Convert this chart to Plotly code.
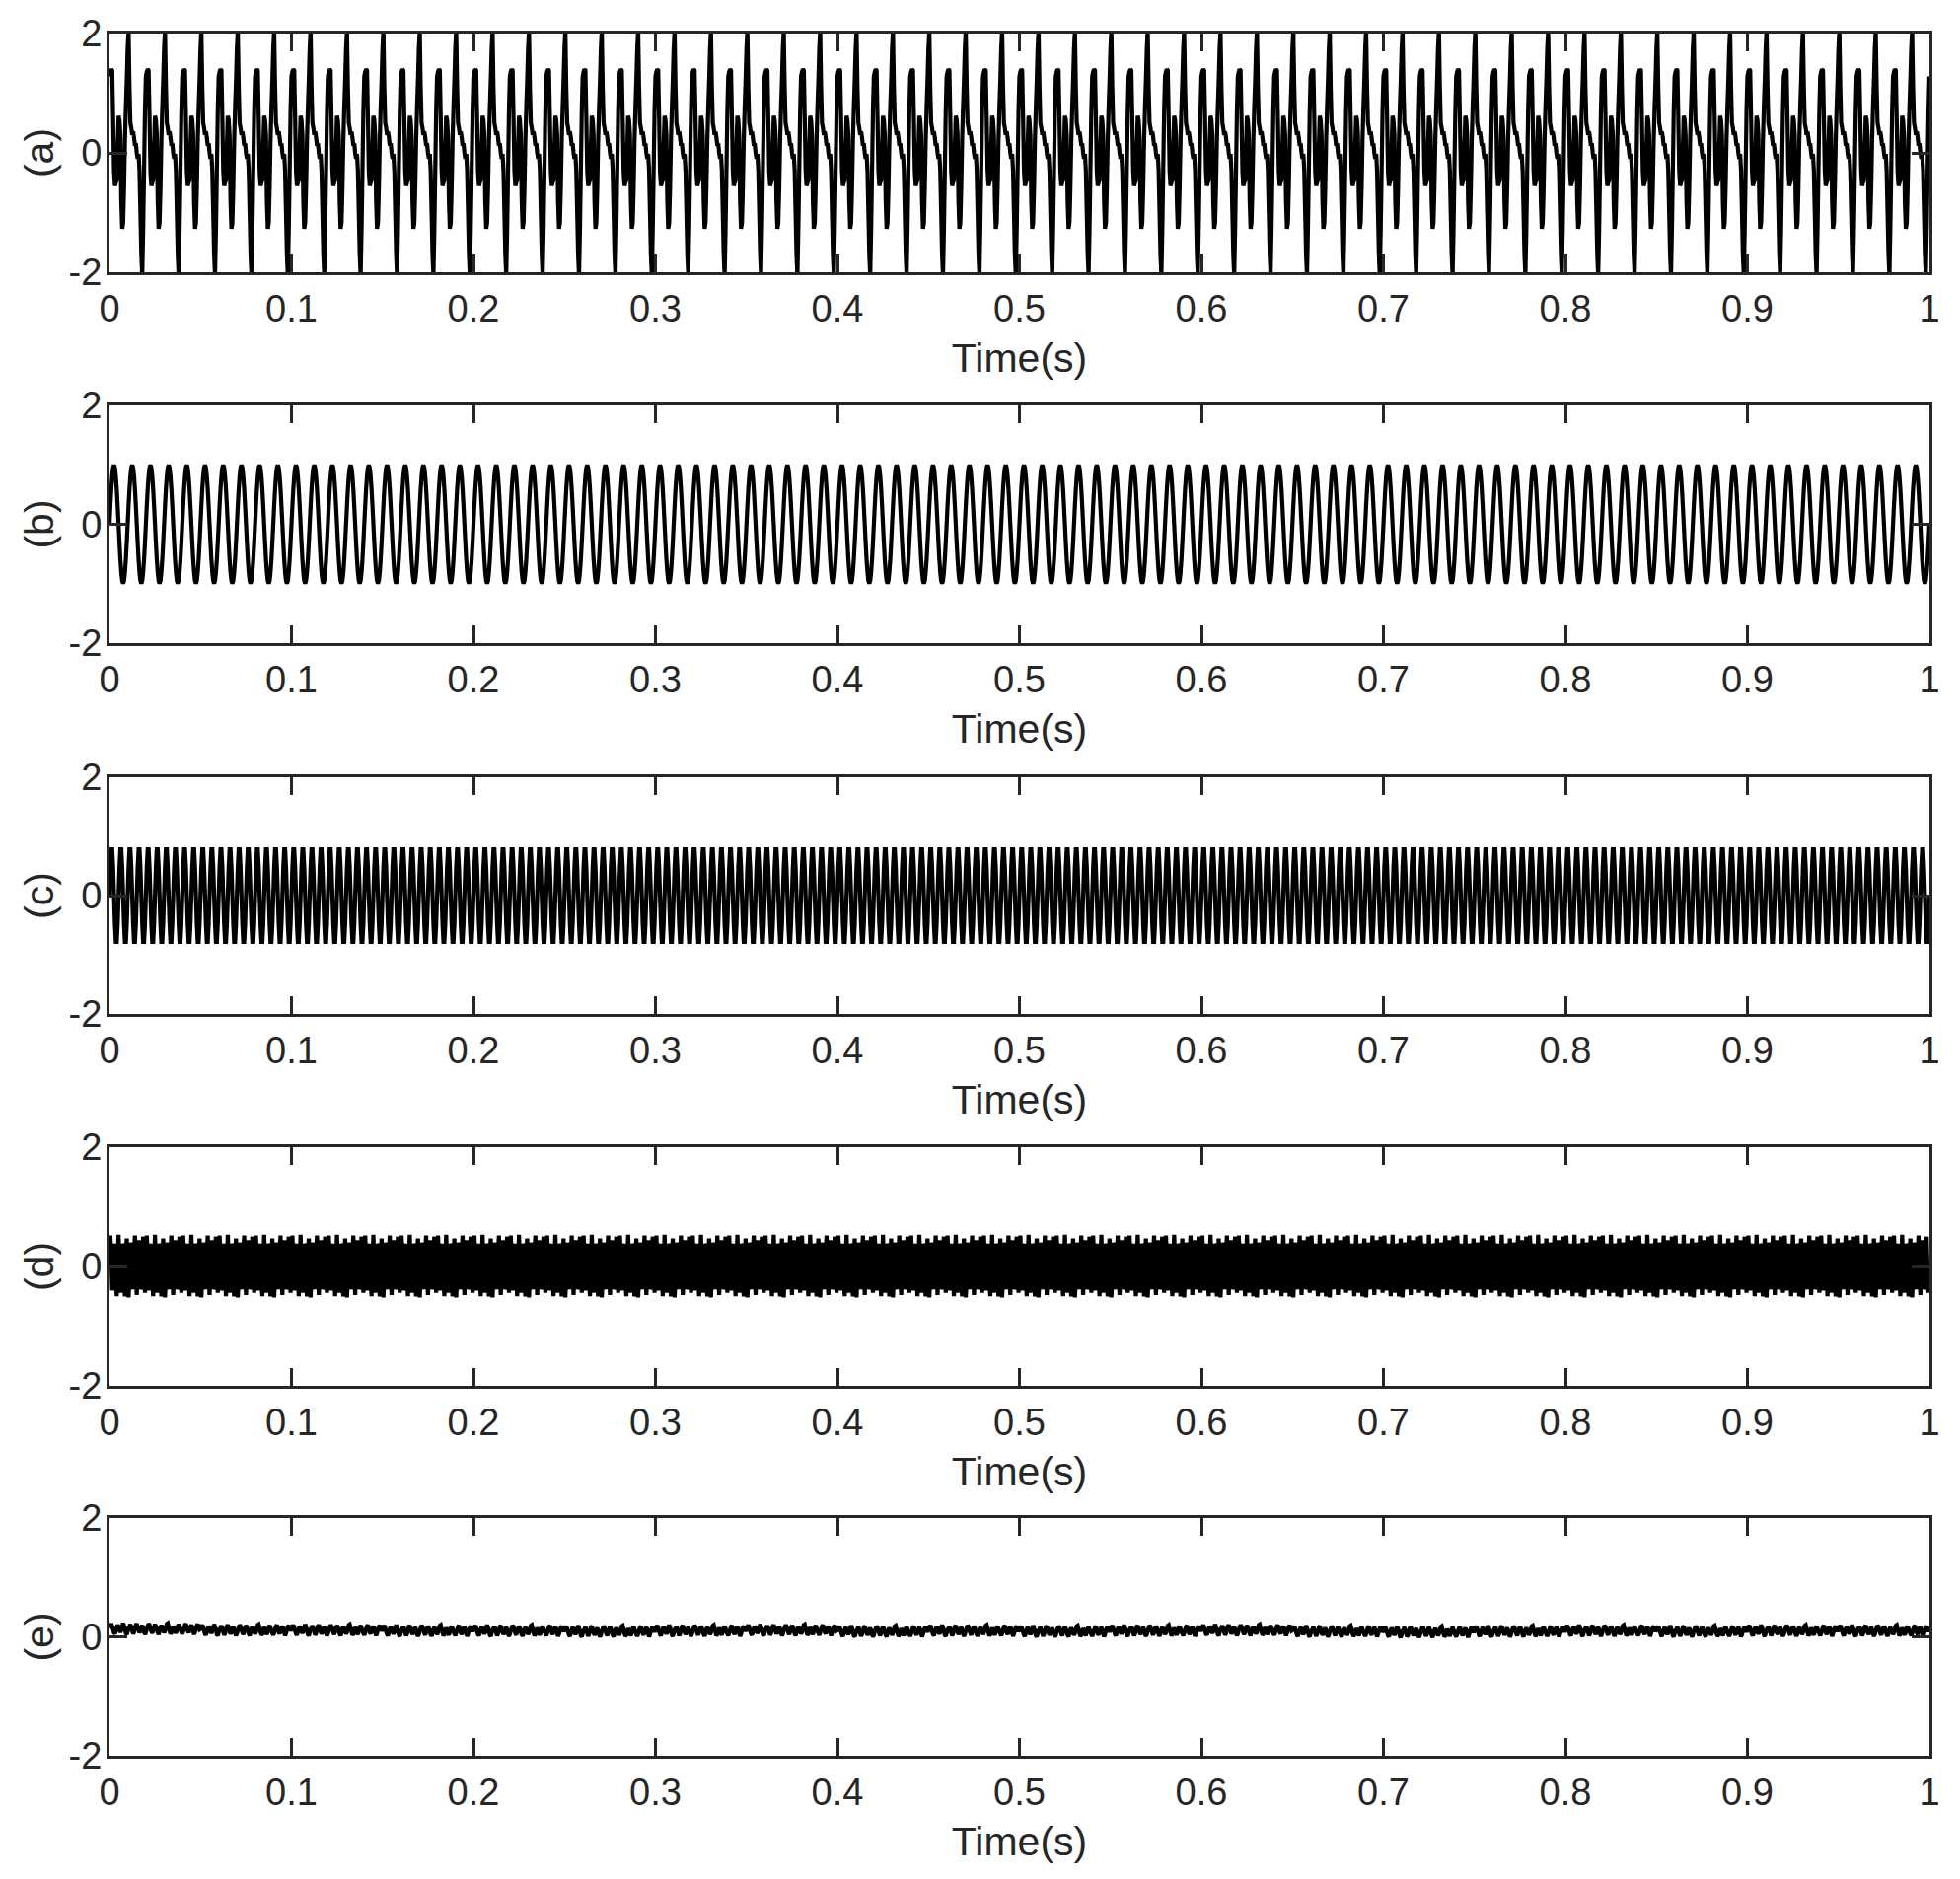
import numpy as np
import plotly.graph_objects as go
from plotly.subplots import make_subplots

# ---------------- data ----------------
PANEL_LABELS = ["(a)", "(b)", "(c)", "(d)", "(e)"]
X_TITLE = "Time(s)"
X_TICK_VALUES = [0, 0.1, 0.2, 0.3, 0.4, 0.5, 0.6, 0.7, 0.8, 0.9, 1.0]
X_TICK_LABELS = ["0", "0.1", "0.2", "0.3", "0.4", "0.5", "0.6", "0.7", "0.8", "0.9", "1"]
Y_TICK_VALUES = [-2, 0, 2]
Y_TICK_LABELS = ["-2", "0", "2"]

SAMPLE_STEP = 0.0005   # seconds between samples
DURATION = 1.0         # seconds

# (a) one 0.02 s cycle of the composite signal (40 samples)
CYCLE_A = [1.28, 1.36, 1.40, 1.38, 0.60, -0.30, -0.55, -0.50, -0.45, 0.10,
           0.62, 0.55, 0.30, -0.80, -1.27, -1.18, -0.60, 0.20, 0.75, 1.20,
           1.75, 2.05, 1.10, 0.50, 0.42, 0.30, 0.36, 0.26, 0.12, 0.16,
           0.00, -0.10, -0.02, -0.30, -1.00, -1.70, -2.05, -1.30, -0.30, 0.70]

# (b) one 0.01 s cycle (20 samples)
CYCLE_B = [0.00, 0.31, 0.59, 0.81, 0.95, 1.00, 0.95, 0.81, 0.59, 0.31,
           0.00, -0.31, -0.59, -0.81, -0.95, -1.00, -0.95, -0.81, -0.59, -0.31]

# (c) one 0.005 s cycle (10 samples)
CYCLE_C = [0.00, 0.48, 0.78, 0.78, 0.48, 0.00, -0.48, -0.78, -0.78, -0.48]

# (d) one 0.02 s pattern of the fast component (40 samples)
CYCLE_D = [0.00, 0.52, 0.14, -0.40, -0.30, 0.33, 0.38, -0.22, -0.50, 0.08,
           0.53, 0.06, -0.44, -0.22, 0.38, 0.34, -0.28, -0.50, 0.14, 0.47,
           0.00, -0.52, -0.15, 0.40, 0.27, -0.33, -0.38, 0.22, 0.52, -0.08,
           -0.48, -0.07, 0.44, 0.21, -0.38, -0.34, 0.27, 0.50, -0.14, -0.44]

# (e) residual: 0.05 s of fluctuation (100 samples) + slow level per 0.05 s block
NOISE_E = [0.02, 0.06, 0.09, 0.05, -0.01, -0.06, -0.08, -0.03, 0.03, 0.07,
           0.04, -0.02, -0.05, -0.02, 0.05, 0.10, 0.06, 0.00, -0.07, -0.09,
           -0.04, 0.02, 0.04, 0.08, 0.03, -0.03, -0.08, -0.05, 0.01, 0.07,
           0.09, 0.04, -0.02, -0.06, -0.03, 0.03, 0.06, 0.02, -0.05, -0.09,
           -0.06, 0.00, 0.05, 0.09, 0.07, 0.01, -0.04, -0.07, -0.02, 0.04,
           0.08, 0.05, -0.01, -0.06, -0.09, -0.04, 0.03, 0.06, 0.03, -0.02,
           -0.06, -0.03, 0.04, 0.09, 0.10, 0.04, -0.03, -0.08, -0.06, 0.00,
           0.05, 0.02, -0.04, -0.07, -0.02, 0.05, 0.08, 0.04, -0.01, -0.05,
           -0.08, -0.04, 0.02, 0.07, 0.09, 0.03, -0.03, -0.06, -0.01, 0.04,
           0.07, 0.03, -0.04, -0.09, -0.05, 0.01, 0.06, 0.08, 0.04, -0.01]
LEVEL_E = [0.13, 0.11, 0.11, 0.10, 0.10, 0.09, 0.10, 0.11, 0.09, 0.10,
           0.09, 0.10, 0.11, 0.09, 0.08, 0.09, 0.10, 0.09, 0.10, 0.10]

# ---------------- build series ----------------
n = int(round(DURATION / SAMPLE_STEP)) + 1
t = np.arange(n) * SAMPLE_STEP


def repeat_cycle(cycle, count):
    reps = int(np.ceil(count / len(cycle)))
    return np.tile(np.asarray(cycle, dtype=float), reps)[:count]


level = np.repeat(np.asarray(LEVEL_E, dtype=float), len(NOISE_E))
level = np.concatenate([level, level[-1:]])[:n]
series = [
    repeat_cycle(CYCLE_A, n),
    repeat_cycle(CYCLE_B, n),
    repeat_cycle(CYCLE_C, n),
    repeat_cycle(CYCLE_D, n),
    repeat_cycle(NOISE_E, n) + level,
]

# ---------------- figure ----------------
# the page body adds an 8 px margin around the figure
BODY = 8
W, H = 1987 - 2 * BODY, 1905 - 2 * BODY
X_PX = (111 - BODY, 1956 - BODY)
Y_PX = [(a - BODY, b - BODY) for a, b in
        [(34, 276), (411, 652), (788, 1028), (1163, 1405), (1539, 1780)]]
M_L, M_R = X_PX[0], W - X_PX[1]
M_T, M_B = Y_PX[0][0], H - Y_PX[-1][1]
PLOT_H = H - M_T - M_B
AX_COLOR = "#262626"
FONT = "Liberation Sans, Arial, Helvetica, sans-serif"

fig = make_subplots(rows=5, cols=1)
for i, y in enumerate(series):
    fig.add_trace(
        go.Scatter(x=t, y=y, mode="lines",
                   line=dict(color="black", width=4.2, simplify=False),
                   showlegend=False, hoverinfo="skip"),
        row=i + 1, col=1)

layout = dict(
    width=W, height=H,
    margin=dict(l=M_L, r=M_R, t=M_T, b=M_B, pad=0),
    paper_bgcolor="white", plot_bgcolor="white",
    font=dict(family=FONT, color=AX_COLOR),
    showlegend=False,
)
for i in range(5):
    sfx = "" if i == 0 else str(i + 1)
    top, bot = Y_PX[i]
    layout["xaxis" + sfx] = dict(
        domain=[0, 1],
        range=[0, 1],
        tickmode="array", tickvals=X_TICK_VALUES, ticktext=X_TICK_LABELS,
        ticks="inside", ticklen=18, tickwidth=3, tickcolor=AX_COLOR,
        showline=True, linecolor=AX_COLOR, linewidth=3, mirror="ticks",
        showgrid=False, zeroline=False, automargin=False,
        ticklabelstandoff=1,
        tickfont=dict(size=38, color=AX_COLOR, family=FONT),
        title=dict(text=X_TITLE, font=dict(size=41, color=AX_COLOR, family=FONT),
                   standoff=16),
    )
    layout["yaxis" + sfx] = dict(
        domain=[(H - M_B - bot) / PLOT_H, (H - M_B - top) / PLOT_H],
        range=[-2, 2],
        tickmode="array", tickvals=Y_TICK_VALUES, ticktext=Y_TICK_LABELS,
        ticks="inside", ticklen=18, tickwidth=3, tickcolor=AX_COLOR,
        showline=True, linecolor=AX_COLOR, linewidth=3, mirror="ticks",
        showgrid=False, zeroline=False, automargin=False,
        ticklabelstandoff=-3,
        tickfont=dict(size=38, color=AX_COLOR, family=FONT),
        title=dict(text=PANEL_LABELS[i], font=dict(size=41, color=AX_COLOR, family=FONT),
                   standoff=3),
    )
fig.update_layout(**layout)

fig.write_html("out.html")
